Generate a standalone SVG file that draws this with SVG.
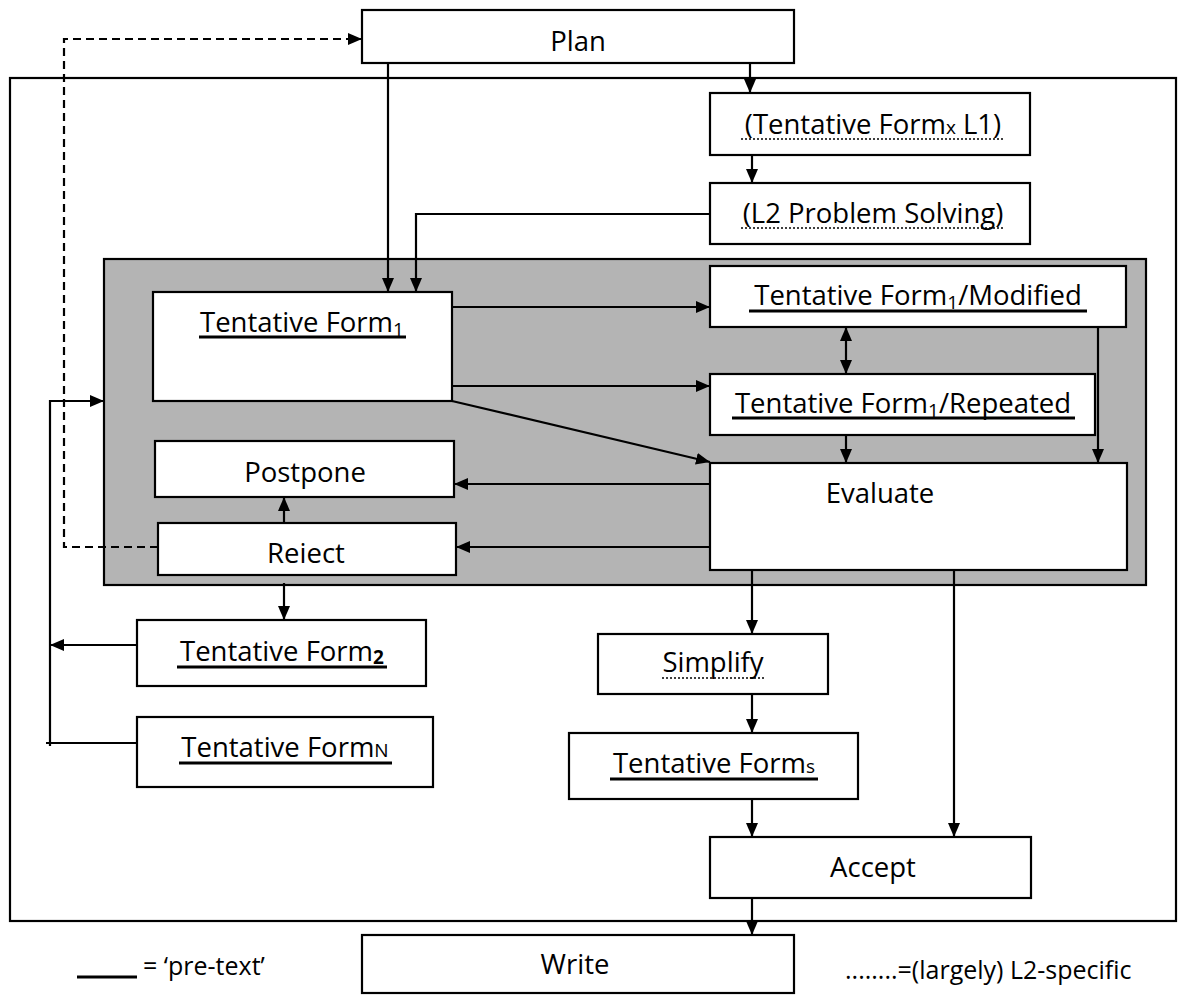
<svg xmlns="http://www.w3.org/2000/svg" width="1180" height="996" viewBox="0 0 1180 996">
  <style>
    .box { fill: #fff; stroke: #000; stroke-width: 2.2; }
    .frame { fill: none; stroke: #000; stroke-width: 2.2; }
    .shade { fill: #b4b4b4; stroke: #000; stroke-width: 2.2; }
    .lbl { font-family: "Open Sans", "Noto Sans", sans-serif; font-size: 27.5px; fill: #000; text-anchor: middle; }
    .leg { font-family: "Open Sans", "Noto Sans", sans-serif; font-size: 25px; fill: #000; }
    .sub { font-size: 19px; }
    .c { stroke: #000; stroke-width: 2.2; fill: none; }
    .dash { stroke-dasharray: 8 5; }
    .ul { stroke: #000; stroke-width: 2.8; }
    .dot { stroke: #000; stroke-width: 1.6; stroke-dasharray: 2 2; }
  </style>
  <defs>
    <marker id="ah" viewBox="0 0 14 12" refX="14" refY="6" markerWidth="14" markerHeight="12" markerUnits="userSpaceOnUse" orient="auto-start-reverse">
      <path d="M0,0 L14,6 L0,12 z" fill="#000"/>
    </marker>
  </defs>

  <!-- containers -->
  <rect id="outer" class="frame" x="10" y="78" width="1166" height="843"/>
  <rect id="trial-zone" class="shade" x="104" y="259" width="1042" height="326"/>

  <!-- connectors -->
  <g id="connectors">
    <path class="c dash" d="M158,547 H64 V39 H362" marker-end="url(#ah)"/>
    <path class="c" d="M388,63 V292" marker-end="url(#ah)"/>
    <path class="c" d="M750,63 V93" marker-end="url(#ah)"/>
    <path class="c" d="M752,155 V183" marker-end="url(#ah)"/>
    <path class="c" d="M710,214 H416 V292" marker-end="url(#ah)"/>
    <path class="c" d="M452,307 H710" marker-end="url(#ah)"/>
    <path class="c" d="M452,386 H710" marker-end="url(#ah)"/>
    <path class="c" d="M452,401 L710,462" marker-end="url(#ah)"/>
    <path class="c" d="M846,327 V374" marker-start="url(#ah)" marker-end="url(#ah)"/>
    <path class="c" d="M846,435 V463" marker-end="url(#ah)"/>
    <path class="c" d="M1098,327 V463" marker-end="url(#ah)"/>
    <path class="c" d="M710,484 H454" marker-end="url(#ah)"/>
    <path class="c" d="M710,547 H456" marker-end="url(#ah)"/>
    <path class="c" d="M284,523 V497" marker-end="url(#ah)"/>
    <path class="c" d="M284,583 V620" marker-end="url(#ah)"/>
    <path class="c" d="M137,645 H50" marker-end="url(#ah)"/>
    <path class="c" d="M137,743 H46"/>
    <path class="c" d="M50,746 V401 H104" marker-end="url(#ah)"/>
    <path class="c" d="M752,570 V634" marker-end="url(#ah)"/>
    <path class="c" d="M752,694 V733" marker-end="url(#ah)"/>
    <path class="c" d="M752,799 V837" marker-end="url(#ah)"/>
    <path class="c" d="M954,570 V837" marker-end="url(#ah)"/>
    <path class="c" d="M752,898 V935" marker-end="url(#ah)"/>
  </g>

  <g id="plan">
    <rect class="box" x="362" y="10" width="432" height="53"/>
    <text class="lbl" x="578" y="51">Plan</text>
  </g>

  <g id="form-x-l1">
    <rect class="box" x="710" y="93" width="320" height="62"/>
    <text class="lbl" x="873" y="134">(Tentative Form<tspan class="sub">x</tspan> L1)</text>
    <line class="dot" x1="741" y1="139" x2="1005" y2="139"/>
  </g>

  <g id="l2-problem-solving">
    <rect class="box" x="710" y="183" width="320" height="61"/>
    <text class="lbl" x="873" y="223">(L2 Problem Solving)</text>
    <line class="dot" x1="741" y1="228" x2="1005" y2="228"/>
  </g>

  <g id="form-1">
    <rect class="box" x="153" y="292" width="299" height="109"/>
    <text class="lbl" x="302" y="332">Tentative Form<tspan class="sub" dy="4">1</tspan></text>
    <line class="ul" x1="199" y1="337" x2="406" y2="337"/>
  </g>

  <g id="form-1-modified">
    <rect class="box" x="710" y="266" width="416" height="61"/>
    <text class="lbl" x="918" y="305">Tentative Form<tspan class="sub" dy="4">1</tspan><tspan dy="-4">/Modified</tspan></text>
    <line class="ul" x1="749" y1="311" x2="1087" y2="311"/>
  </g>

  <g id="form-1-repeated">
    <rect class="box" x="710" y="374" width="385" height="61"/>
    <text class="lbl" x="903" y="413">Tentative Form<tspan class="sub" dy="4">1</tspan><tspan dy="-4">/Repeated</tspan></text>
    <line class="ul" x1="732" y1="418" x2="1075" y2="418"/>
  </g>

  <g id="evaluate">
    <rect class="box" x="710" y="463" width="417" height="107"/>
    <text class="lbl" x="880" y="503">Evaluate</text>
  </g>

  <g id="postpone">
    <rect class="box" x="155" y="441" width="299" height="56"/>
    <text class="lbl" x="305" y="482">Postpone</text>
  </g>

  <g id="reject">
    <rect class="box" x="158" y="523" width="298" height="52"/>
    <text class="lbl" x="306" y="563">Reiect</text>
  </g>

  <g id="form-2">
    <rect class="box" x="137" y="620" width="289" height="66"/>
    <text class="lbl" x="282" y="661">Tentative Form<tspan class="sub" font-weight="bold" dy="3">2</tspan></text>
    <line class="ul" x1="177" y1="667" x2="387" y2="667"/>
  </g>

  <g id="form-n">
    <rect class="box" x="137" y="717" width="296" height="70"/>
    <text class="lbl" x="285" y="757">Tentative Form<tspan class="sub">N</tspan></text>
    <line class="ul" x1="179" y1="763" x2="392" y2="763"/>
  </g>

  <g id="simplify">
    <rect class="box" x="598" y="634" width="230" height="60"/>
    <text class="lbl" x="713" y="672">Simplify</text>
    <line class="dot" x1="662" y1="678" x2="764" y2="678"/>
  </g>

  <g id="form-s">
    <rect class="box" x="569" y="733" width="289" height="66"/>
    <text class="lbl" x="714" y="773">Tentative Form<tspan class="sub">s</tspan></text>
    <line class="ul" x1="610" y1="779" x2="818" y2="779"/>
  </g>

  <g id="accept">
    <rect class="box" x="710" y="837" width="321" height="61"/>
    <text class="lbl" x="873" y="877">Accept</text>
  </g>

  <g id="write">
    <rect class="box" x="362" y="935" width="432" height="58"/>
    <text class="lbl" x="575" y="974">Write</text>
  </g>

  <g id="legend">
    <line class="ul" x1="77" y1="977" x2="137" y2="977"/>
    <text class="leg" x="143" y="975">= ‘pre-text’</text>
    <text class="leg" x="845" y="979">........=(largely) L2-specific</text>
  </g>
</svg>
